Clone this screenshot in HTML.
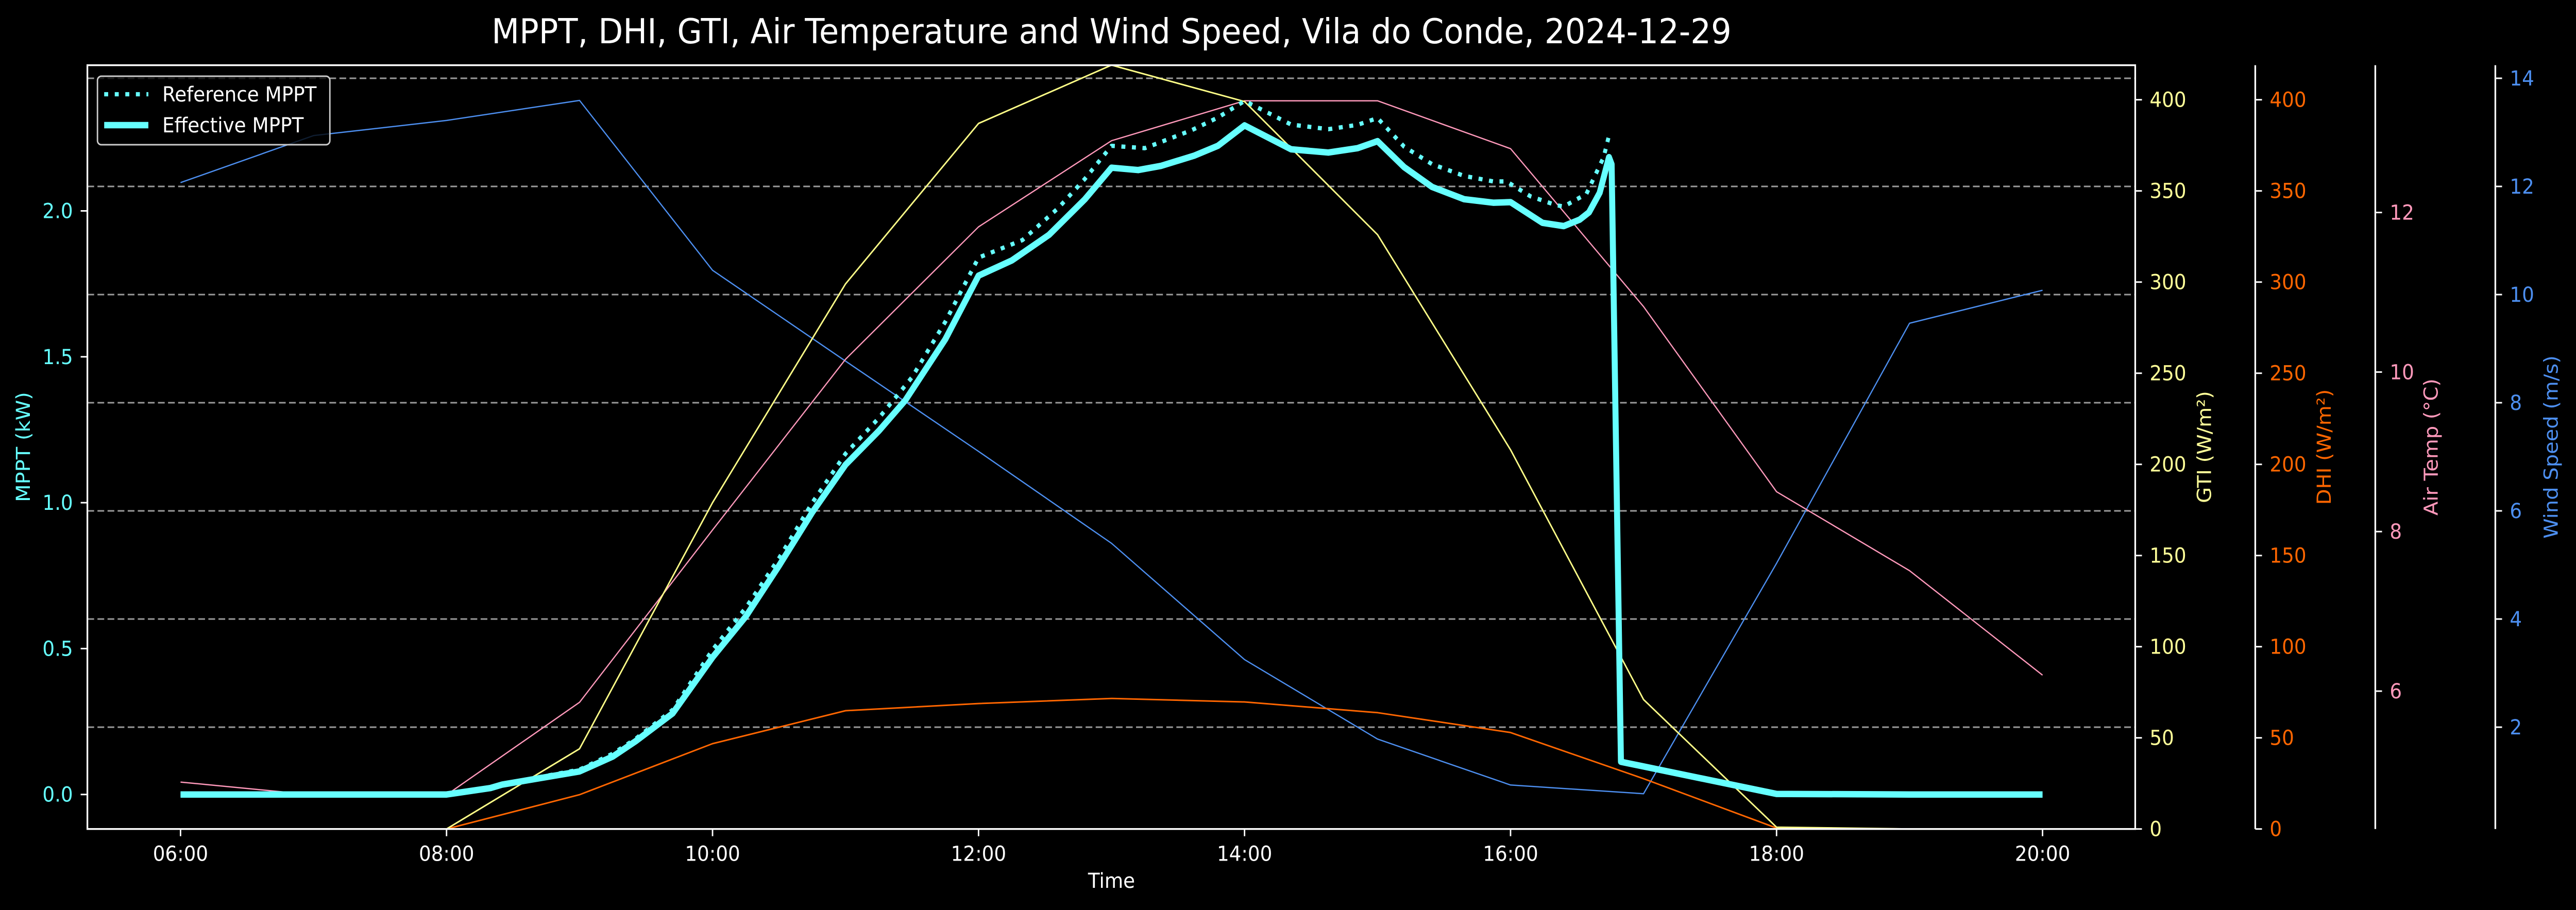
<!DOCTYPE html>
<html><head><meta charset="utf-8"><style>
html,body{margin:0;padding:0;background:#000;width:100%;height:100%;overflow:hidden;}
#wrap{position:absolute;left:0;top:0;width:100vw;height:100vh;overflow:hidden;}
svg{display:block;overflow:hidden;width:100vw;height:100vh;}
text{font-family:"DejaVu Sans","Liberation Sans",sans-serif;}
</style></head><body>
<div id="wrap">
<svg id="chart" xmlns="http://www.w3.org/2000/svg" viewBox="0 0 5365 1767" preserveAspectRatio="none">
<rect x="0" y="0" width="5365" height="1767" fill="#000"/>
<text x="2315" y="84" text-anchor="middle" font-size="67" fill="#fff">MPPT, DHI, GTI, Air Temperature and Wind Speed, Vila do Conde, 2024-12-29</text>
<g id="grid"></g>
<g id="series"></g>
<g id="axes"></g>
<g id="legend">
<rect x="203" y="148" width="484" height="133" rx="8" fill="#000" fill-opacity="0.8" stroke="#ccc" stroke-width="3"/>
<line x1="217" y1="183" x2="309" y2="183" stroke="#66ffff" stroke-width="8.3" stroke-dasharray="8.3 13.7"/>
<text x="338" y="197" font-size="40" fill="#fff">Reference MPPT</text>
<line x1="217" y1="243" x2="309" y2="243" stroke="#66ffff" stroke-width="12.5"/>
<text x="338" y="257" font-size="40" fill="#fff">Effective MPPT</text>
</g>
</svg>
</div>
<script>
// hourly data
const hours = [6,7,8,9,10,11,12,13,14,15,16,17,18,19,20];
const gti  = [null,null,0,44,179,299,387,419,399,326,208,71,1,0,0];
const dhi  = [null,null,0,18.8,46.8,64.9,68.8,71.6,69.7,63.8,52.9,27.6,0.5,0,0];
const temp = [4.86,4.70,4.70,5.86,8.02,10.16,11.82,12.90,13.40,13.40,12.80,10.82,8.50,7.51,6.20];
const wind = [12.07,12.94,13.22,13.59,10.45,8.77,7.10,5.40,3.25,1.78,0.93,0.77,5.03,9.47,10.08];
// MPPT series
const effTimes = [6,7,8,8.33,8.42,9,9.25,9.42,9.7,10,10.25,10.5,10.75,11,11.25,11.45,11.75,12,12.25,12.53,12.8,13,13.2,13.37,13.62,13.8,14,14.35,14.63,14.85,15,15.2,15.41,15.65,15.87,16,16.24,16.4,16.52,16.59,16.67,16.74,16.76,16.83,18,19,20];
const effVals  = [0,0,0,0.022,0.034,0.079,0.13,0.182,0.278,0.47,0.61,0.784,0.967,1.13,1.246,1.351,1.56,1.778,1.83,1.918,2.04,2.148,2.14,2.154,2.189,2.223,2.293,2.211,2.2,2.215,2.239,2.15,2.082,2.04,2.028,2.03,1.959,1.948,1.97,1.995,2.062,2.184,2.16,0.112,0.002,0,0];
const refTimes = [6,7,8,8.33,8.42,9,9.25,9.42,9.7,10,10.25,10.5,10.75,11,11.25,11.5,11.75,12,12.33,12.6,12.8,13,13.25,13.6,13.8,14,14.35,14.63,14.85,15,15.2,15.41,15.65,15.87,15.97,16.15,16.34,16.4,16.57,16.7,16.74];
const refVals  = [0,0,0,0.024,0.036,0.085,0.14,0.19,0.29,0.496,0.64,0.81,1.0,1.168,1.29,1.43,1.62,1.84,1.9,2.01,2.11,2.223,2.215,2.276,2.32,2.377,2.296,2.28,2.295,2.318,2.22,2.16,2.12,2.101,2.101,2.05,2.02,2.015,2.058,2.184,2.258];
const xTicks = [6,8,10,12,14,16,18,20];
const mpptTicks = [0,0.5,1.0,1.5,2.0];
const gtiTicks = [0,50,100,150,200,250,300,350,400];
const tempTicks = [6,8,10,12];
const windTicks = [2,4,6,8,10,12,14];

const NS='http://www.w3.org/2000/svg';
const L=182,R=4447,T=126.6,B=1609.7;
const x = t => 376 + (t-6)*277;
const yM = v => 1542.7 - v*566.6;
const yG = v => B - v*3.54;
const yT = v => 412.6 - (v-12)*154.9;
const yW = v => 1622 - v*105;
function mk(tag,attrs,parent){const e=document.createElementNS(NS,tag);for(const k in attrs)e.setAttribute(k,attrs[k]);parent.appendChild(e);return e;}
const grid=document.getElementById('grid'),series=document.getElementById('series'),axes=document.getElementById('axes');

windTicks.forEach(v=>{
  const g=mk('line',{x1:L,x2:R,y1:yW(v),y2:yW(v),stroke:'#9a9a9a','stroke-width':3,'stroke-dasharray':'14 7'},grid);
  
  
});

function path(xs,ys,fx,fy,attrs,name){
  let d='';let pen=false;
  for(let i=0;i<xs.length;i++){
    if(ys[i]===null){pen=false;continue;}
    d+=(pen?'L':'M')+x(xs[i]).toFixed(1)+' '+fy(ys[i]).toFixed(1)+' ';pen=true;
  }
  const p=mk('path',Object.assign({d:d,fill:'none','stroke-linejoin':'round'},attrs),series);
  
  
}
path(hours,wind,x,yW,{stroke:'#4d8ff0','stroke-width':2.5},'wind-speed-line');
path(hours,temp,x,yT,{stroke:'#ff99bb','stroke-width':2.5},'air-temp-line');
path(hours,dhi,x,yG,{stroke:'#ff6600','stroke-width':3},'dhi-line');
path(hours,gti,x,yG,{stroke:'#ffff88','stroke-width':3},'gti-line');
path(refTimes,refVals,x,yM,{stroke:'#66ffff','stroke-width':8.3,'stroke-dasharray':'8.3 13.7'},'reference-mppt-line');
path(effTimes,effVals,x,yM,{stroke:'#66ffff','stroke-width':12.5},'effective-mppt-line');

const fr=mk('rect',{x:L,y:T,width:R-L,height:B-T,fill:'none',stroke:'#fff','stroke-width':3.5},axes);



function txt(s,attrs,name){const e=mk('text',attrs,axes);e.textContent=s;return e;}
function tick(x1,y1,x2,y2,name){const e=mk('line',{x1,y1,x2,y2,stroke:'#fff','stroke-width':3},axes);}

xTicks.forEach(t=>{
  tick(x(t),B,x(t),B+14,'x-tick');
  txt(String(t).padStart(2,'0')+':00',{x:x(t),y:B+62,'font-size':40,fill:'#fff','text-anchor':'middle'},'x-tick-label');
});
txt('Time',{x:2315,y:1724,'font-size':40,fill:'#fff','text-anchor':'middle'},'x-axis-title');

mpptTicks.forEach(v=>{
  tick(L-14,yM(v),L,yM(v),'mppt-tick');
  txt(v.toFixed(1),{x:152,y:yM(v)+14,'font-size':40,fill:'#66ffff','text-anchor':'end'},'mppt-tick-label');
});
txt('MPPT (kW)',{x:0,y:0,'font-size':40,fill:'#66ffff','text-anchor':'middle',transform:'translate(62 868) rotate(-90)'},'mppt-axis-title');

function rightAxis(sx,ticks,fy,color,label,lx,name){
  if(sx!==R){const s=mk('line',{x1:sx,x2:sx,y1:T,y2:B,stroke:'#fff','stroke-width':3.5},axes);}
  ticks.forEach(v=>{
    tick(sx,fy(v),sx+14,fy(v),name+'-tick');
    txt(String(v),{x:sx+30,y:fy(v)+14,'font-size':40,fill:color},name+'-tick-label');
  });
  txt(label,{x:0,y:0,'font-size':40,fill:color,'text-anchor':'middle',transform:'translate('+lx+' 868) rotate(-90)'},name+'-axis-title');
}
rightAxis(R,gtiTicks,yG,'#ffff99','GTI (W/m²)',4605,'gti');
rightAxis(4697,gtiTicks,yG,'#ff6600','DHI (W/m²)',4854,'dhi');
rightAxis(4947,tempTicks,yT,'#ff99bb','Air Temp (°C)',5077,'air-temp');
rightAxis(5197,windTicks,yW,'#4d8ff0','Wind Speed (m/s)',5327,'wind');
</script>
</body></html>
